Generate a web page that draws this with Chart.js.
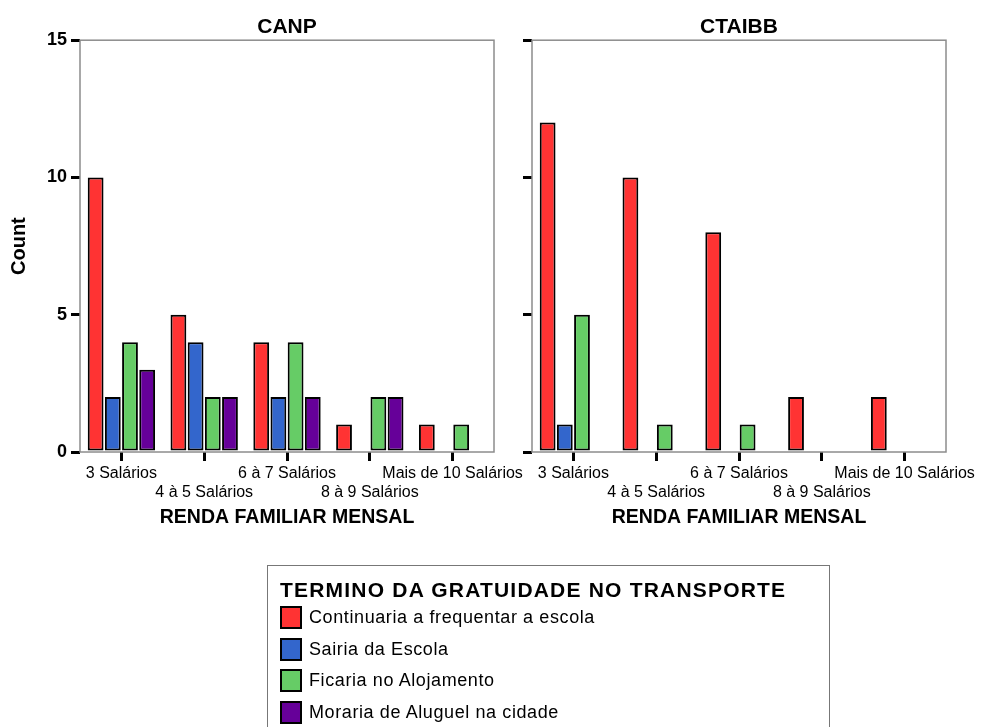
<!DOCTYPE html>
<html>
<head>
<meta charset="utf-8">
<script src="https://cdn.jsdelivr.net/npm/chart.js@4"></script>
<style>
  body { margin: 0; background: #fff; width: 984px; height: 727px; overflow: hidden; position: relative; font-family: Arial, "Liberation Sans", sans-serif; }
  canvas { position: absolute; left: 0; top: 0; }
  #legend { position: absolute; left: 267px; top: 565px; width: 563px; height: 200px; border: 1.5px solid #777; box-sizing: border-box; padding: 12px 0 0 12px; }
  #legend .ttl { font-weight: bold; font-size: 21px; line-height: 24px; height: 24px; color: #000; letter-spacing: 1.2px; }
  #legend .row { height: 31.5px; line-height: 31.5px; font-size: 18px; color: #000; display: flex; align-items: center; letter-spacing: 0.6px; }
  #legend .sw { width: 18px; height: 19px; border: 2px solid #000; margin-right: 7px; flex: none; }
</style>
</head>
<body>
<canvas id="canp" width="984" height="727"></canvas>
<canvas id="ctaibb" width="984" height="727"></canvas>
<div id="legend"></div>
<script>
// categories (RENDA FAMILIAR MENSAL)
const categories = ['3 Salários', '4 à 5 Salários', '6 à 7 Salários', '8 à 9 Salários', 'Mais de 10 Salários'];
const yTicks = [0, 5, 10, 15];

// series names and colours
const seriesNames = ['Continuaria a frequentar a escola', 'Sairia da Escola', 'Ficaria no Alojamento', 'Moraria de Aluguel na cidade'];
const seriesColors = ['#ff3333', '#3366cc', '#66cc66', '#660099'];

// CANP counts
const canpContinuaria = [10, 5, 4, 1, 1];
const canpSairia = [2, 4, 2, 0, 0];
const canpAlojamento = [4, 2, 4, 2, 1];
const canpAluguel = [3, 2, 2, 2, 0];

// CTAIBB counts
const ctaibbContinuaria = [12, 10, 8, 2, 2];
const ctaibbSairia = [1, 0, 0, 0, 0];
const ctaibbAlojamento = [5, 1, 1, 0, 0];
const ctaibbAluguel = [0, 0, 0, 0, 0];

const FONT = 'Arial, "Liberation Sans", sans-serif';

function makeDatasets(series) {
    return series.map((vals, i) => ({
        label: seriesNames[i],
        data: vals.map(v => v === 0 ? null : v),
        backgroundColor: seriesColors[i],
        borderColor: '#000',
        borderWidth: 2,
        borderSkipped: false,
        categoryPercentage: 0.83,
        barPercentage: 0.92
    }));
}

// grey frame round the plot area
const framePlugin = {
    id: 'frame',
    beforeDatasetsDraw(chart) {
        const a = chart.chartArea;
        const ctx = chart.ctx;
        ctx.save();
        ctx.strokeStyle = '#8c8c8c';
        ctx.lineWidth = 1.5;
        ctx.strokeRect(a.left, a.top, a.right - a.left, a.bottom - a.top);
        ctx.restore();
    }
};

function makeChart(id, title, series, showY, padding) {
    const ctx = document.getElementById(id).getContext('2d');
    return new Chart(ctx, {
        type: 'bar',
        data: {
            labels: categories,
            datasets: makeDatasets(series)
        },
        plugins: [framePlugin],
        options: {
            responsive: false,
            animation: false,
            layout: { padding: padding },
            plugins: {
                legend: { display: false },
                tooltip: { enabled: false },
                title: {
                    display: true,
                    text: title,
                    fullSize: false,
                    color: '#000',
                    font: { family: FONT, size: 21, weight: 'bold' },
                    padding: { top: 0, bottom: 0 }
                }
            },
            scales: {
                x: {
                    offset: true,
                    grid: { offset: false, drawOnChartArea: false, color: '#000', lineWidth: 3, tickLength: 9 },
                    border: { display: false },
                    ticks: {
                        autoSkip: false,
                        maxRotation: 0,
                        minRotation: 0,
                        padding: 2.5,
                        color: '#000',
                        font: { family: FONT, size: 16 },
                        callback: (value, index) => index % 2 ? ['', categories[index]] : categories[index]
                    },
                    title: {
                        display: true,
                        text: 'RENDA FAMILIAR MENSAL',
                        color: '#000',
                        font: { family: FONT, size: 19.5, weight: 'bold' },
                        padding: { top: 0, bottom: 3 }
                    },
                    afterFit(scale) {
                        scale.height = 80;
                        scale.paddingLeft = 0;
                        scale.paddingRight = 0;
                    }
                },
                y: {
                    min: 0,
                    max: 15,
                    afterBuildTicks(scale) {
                        scale.ticks = yTicks.map(v => ({ value: v }));
                    },
                    grid: { drawOnChartArea: false, color: '#000', lineWidth: 3, tickLength: 9 },
                    border: { display: false },
                    ticks: {
                        display: showY,
                        padding: 4,
                        color: '#000',
                        font: { family: FONT, size: 18, weight: 'bold' }
                    },
                    title: {
                        display: showY,
                        text: 'Count',
                        color: '#000',
                        font: { family: FONT, size: 20, weight: 'bold' },
                        padding: { top: 7, bottom: 0 }
                    },
                    afterFit(scale) {
                        scale.width = showY ? 80 : 20;
                        scale.paddingTop = 0;
                        scale.paddingBottom = 0;
                    }
                }
            }
        }
    });
}

const canpChart = makeChart('canp', 'CANP',
    [canpContinuaria, canpSairia, canpAlojamento, canpAluguel], true,
    { left: 0, right: 490, top: 15, bottom: 195 });

makeChart('ctaibb', 'CTAIBB',
    [ctaibbContinuaria, ctaibbSairia, ctaibbAlojamento, ctaibbAluguel], false,
    { left: 512, right: 38, top: 15, bottom: 195 });

// legend built from the chart's datasets
const legend = document.getElementById('legend');
const ttl = document.createElement('div');
ttl.className = 'ttl';
ttl.textContent = 'TERMINO DA GRATUIDADE NO TRANSPORTE';
legend.appendChild(ttl);
canpChart.data.datasets.forEach(ds => {
    const row = document.createElement('div');
    row.className = 'row';
    const sw = document.createElement('span');
    sw.className = 'sw';
    sw.style.background = ds.backgroundColor;
    row.appendChild(sw);
    row.appendChild(document.createTextNode(ds.label));
    legend.appendChild(row);
});
</script>
</body>
</html>
